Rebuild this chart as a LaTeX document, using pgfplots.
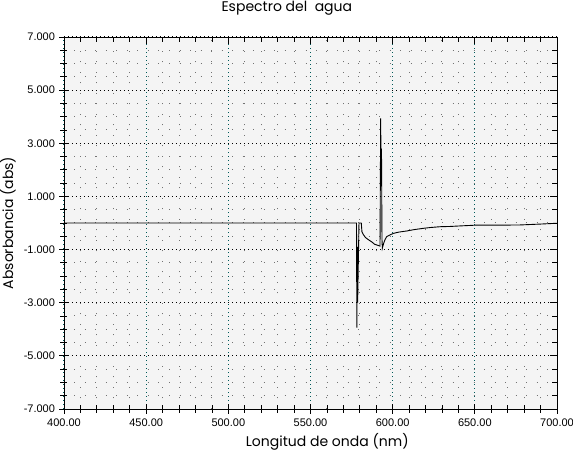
\documentclass[border=0pt]{standalone}
\usepackage{pgfplots}
\pgfplotsset{compat=1.18}
\usepackage{fontspec}
\setmainfont{Liberation Sans}
\newfontfamily\gothic{Poppins}
\definecolor{bgc}{HTML}{F4F4F4}
\definecolor{teal0}{HTML}{005A5A}
\begin{document}
\begin{tikzpicture}
\path[use as bounding box] (-64bp,-44bp) rectangle (509bp,409bp);
\begin{axis}[
    scale only axis,
    width=493bp, height=372bp,
    xmin=400, xmax=700, ymin=-7, ymax=7,
    clip mode=individual,
    axis background/.style={fill=bgc},
    xtick={400,450,...,700},
    ytick={-7,-5,...,7},
    minor x tick num=4,
    minor y tick num=3,
    xtick pos=bottom, ytick pos=left,
    tick align=center,
    major tick length=9bp, minor tick length=7bp,
    tick style={black, line width=0.8bp},
    axis line style={black, line width=0.8bp},
    grid=both,
    major x grid style={teal0, line width=1bp, dash pattern=on 1bp off 3bp},
    major y grid style={black, line width=1bp, dash pattern=on 1bp off 3bp},
    minor grid style={black!55, line width=1bp, dash pattern=on 1bp off 9.5bp},
    /pgf/number format/assume math mode=true,
    xticklabel style={/pgf/number format/fixed, /pgf/number format/fixed zerofill,
        /pgf/number format/precision=2, /pgf/number format/1000 sep={}, yshift=-2bp},
    yticklabel style={/pgf/number format/fixed, /pgf/number format/fixed zerofill,
        /pgf/number format/precision=3, xshift=-1bp},
    ticklabel style={font=\fontsize{11bp}{12bp}\selectfont},
]
\addplot[black, line width=0.9bp] coordinates {
(400,0) (578.0,0) (578.2,-3.94) (578.5,-0.9) (578.7,-3.0) (579.5,0.0) (580.9,0.0)
(581.3,-0.33) (582.0,-0.42) (583.5,-0.55) (585.5,-0.64) (587.5,-0.72) (589.0,-0.80)
(591.0,-0.84) (592.3,-0.87) (592.7,3.94) (593.0,1.5) (593.2,2.8) (593.5,-0.6) (593.7,-0.95)
(594.6,-0.75) (595.4,-0.62) (596.4,-0.51) (598.4,-0.45) (600.4,-0.39) (604,-0.34)
(608.6,-0.30) (613,-0.25) (618.7,-0.20) (623,-0.17) (628.8,-0.14) (635,-0.13)
(641,-0.11) (651,-0.08) (665,-0.08) (677,-0.075) (690,-0.04) (700,-0.01)
};
\node[yshift=29bp, font=\gothic\fontsize{14bp}{15bp}\selectfont] at (rel axis cs:0.452,1) {Espectro del\ \ agua};
\node[yshift=-33bp, font=\gothic\fontsize{14bp}{15bp}\selectfont] at (rel axis cs:0.534,0) {Longitud de onda (nm)};
\node[xshift=-56bp, rotate=90, font=\gothic\fontsize{14bp}{15bp}\selectfont] at (rel axis cs:0,0.5) {Absorbancia (abs)};
\end{axis}
\begin{axis}[
    scale only axis,
    width=493bp, height=372bp,
    xmin=400, xmax=700, ymin=-7, ymax=7,
    xtick={400,450,...,700},
    ytick={-7,-5,...,7},
    minor x tick num=4,
    minor y tick num=3,
    xtick pos=top, ytick pos=right,
    tick align=inside,
    major tick length=7bp, minor tick length=5bp,
    tick style={black, line width=0.8bp},
    axis line style={black, line width=0.8bp},
    xticklabels={}, yticklabels={},
]
\end{axis}
\end{tikzpicture}
\end{document}
